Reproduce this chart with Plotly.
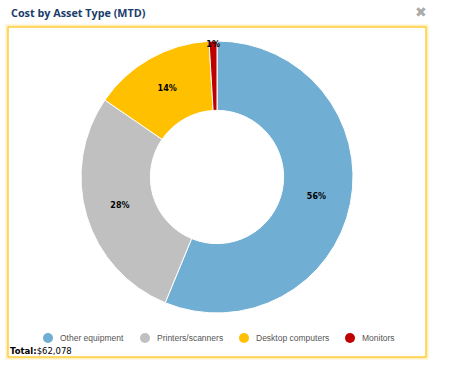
import plotly.graph_objects as go

categories = ["Other equipment", "Printers/scanners", "Desktop computers", "Monitors"]
values = [34900, 17600, 9000, 578]
colors = ["#70AED3", "#C0C0C0", "#FFC000", "#C00000"]
title = "Cost by Asset Type (MTD)"

W, H = 460, 365
cx, cy, r = 217, 177, 136
legend_circle_x = [48, 145, 244, 350]
legend_y = 338

fig = go.Figure()
fig.add_trace(go.Pie(
    labels=categories, values=values, sort=False, direction="clockwise", rotation=0,
    hole=0.49, marker=dict(colors=colors, line=dict(color="white", width=1)),
    texttemplate="<b>%{percent:.0%}</b>", textposition="inside",
    insidetextorientation="horizontal",
    textfont=dict(family="DejaVu Sans", size=8, color="black"),
    showlegend=False, hoverinfo="label+value+percent",
    domain=dict(x=[(cx - r) / W, (cx + r) / W], y=[(H - cy - r) / H, (H - cy + r) / H]),
))

shapes = [
    dict(type="rect", xref="paper", yref="paper", x0=7 / W, x1=427 / W, y0=1 - 358 / H, y1=1 - 26 / H,
         line=dict(color="rgba(255,192,0,0.25)", width=3)),
    dict(type="rect", xref="paper", yref="paper", x0=8 / W, x1=426 / W, y0=1 - 357 / H, y1=1 - 27 / H,
         line=dict(color="#FFC000", width=1)),
]
annotations = [
    dict(text="<b>" + title + "</b>", x=9 / W, y=1 - 13 / H, xref="paper", yref="paper",
         xanchor="left", yanchor="middle", showarrow=False,
         font=dict(family="Open Sans", size=10.8, color="#1B3D6B")),
    dict(text="✖", x=421 / W, y=1 - 12 / H, xref="paper", yref="paper",
         xanchor="center", yanchor="middle", showarrow=False,
         font=dict(family="DejaVu Sans", size=14, color="#AAAAAA")),
    dict(text="<b>Total:</b>${:,}".format(sum(values)), x=8 / W, y=1 - 351 / H, xref="paper", yref="paper",
         xanchor="left", yanchor="middle", showarrow=False,
         font=dict(family="DejaVu Sans", size=8.5, color="black")),
]
for c, col, lx in zip(categories, colors, legend_circle_x):
    shapes.append(dict(type="circle", xref="paper", yref="paper", xsizemode="pixel", ysizemode="pixel",
                       xanchor=lx / W, yanchor=1 - legend_y / H, x0=-5, x1=5, y0=-5, y1=5,
                       fillcolor=col, line=dict(width=0)))
    annotations.append(dict(text=c, x=(lx + 10) / W, y=1 - legend_y / H, xref="paper", yref="paper",
                            xanchor="left", yanchor="middle", showarrow=False,
                            font=dict(family="Liberation Sans", size=8.5, color="#555555")))

fig.update_layout(
    width=W, height=H, margin=dict(l=0, r=0, t=0, b=0),
    paper_bgcolor="white", plot_bgcolor="white",
    shapes=shapes, annotations=annotations,
    uniformtext=dict(minsize=8, mode="show"),
)
fig.write_html("out.html", config={"displayModeBar": False},
               post_script="document.body.style.margin='0px';")
